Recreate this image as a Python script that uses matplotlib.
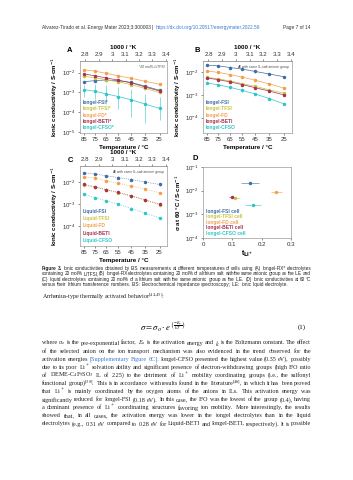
import numpy as np
import matplotlib.pyplot as plt

W, H = 353, 480
plt.rcParams['font.family'] = ['Liberation Sans', 'DejaVu Sans']
plt.rcParams['axes.linewidth'] = 0.5

# ---- data ----
temps = [85, 75, 65, 55, 45, 35, 25]
top_ticks = [2.8, 2.9, 3.0, 3.1, 3.2, 3.3, 3.4]
top_labels = ['2.8', '2.9', '3', '3.1', '3.2', '3.3', '3.4']
anions = ['FSI', 'TFSI', 'FD', 'BETI', 'CFSO']
colors = ['#3d6ea6', '#c9c33f', '#f2a04e', '#a9304f', '#2fc6c8']

# A: iongel-RX* with 20 mol% LiTFSI
a_fsi = [3.5e-3, 4.0e-3, 4.3e-3, 3.9e-3, 3.2e-3, 2.1e-3, 1.3e-3]
a_tfsi = [6.5e-3, 5.6e-3, 4.4e-3, 3.4e-3, 2.5e-3, 1.6e-3, 1.0e-3]
a_fd = [1.4e-2, 1.2e-2, 9.2e-3, 7.0e-3, 5.2e-3, 3.7e-3, 2.6e-3]
a_beti = [8.5e-3, 7.0e-3, 5.4e-3, 4.2e-3, 3.1e-3, 1.9e-3, 1.2e-3]
a_cfso = [1.4e-3, 1.15e-3, 8.5e-4, 6.2e-4, 4.3e-4, 2.6e-4, 1.6e-4]
a_cfso_lo = [6e-4, 4.5e-4, 2.5e-4, 1.5e-4, 6e-5, 3e-5, 4e-5]
a_cfso_hi = [2.4e-3, 2.6e-3, 2.5e-3, 2.0e-3, 1.5e-3, 8e-4, 6e-4]

# B: iongel-RX, same anion salt
b_fsi = [2.1e-2, 1.95e-2, 1.65e-2, 1.4e-2, 1.1e-2, 8.5e-3, 6.4e-3]
b_tfsi = [6.0e-3, 5.2e-3, 4.2e-3, 3.2e-3, 2.4e-3, 1.7e-3, 1.2e-3]
b_fd = [1.15e-2, 1.0e-2, 8.0e-3, 6.2e-3, 4.5e-3, 3.1e-3, 2.0e-3]
b_beti = [5.6e-3, 4.8e-3, 3.8e-3, 2.9e-3, 2.1e-3, 1.5e-3, 1.0e-3]
b_cfso = [3.4e-3, 2.8e-3, 2.2e-3, 1.6e-3, 1.1e-3, 7.0e-4, 4.0e-4]

# C: liquid electrolytes
c_fsi = [2.6e-2, 2.3e-2, 1.9e-2, 1.6e-2, 1.3e-2, 1.0e-2, 7.8e-3]
c_tfsi = [7.2e-3, 5.7e-3, 4.3e-3, 3.2e-3, 2.3e-3, 1.5e-3, 9.5e-4]
c_fd = [1.7e-2, 1.5e-2, 1.15e-2, 8.7e-3, 6.6e-3, 4.8e-3, 3.3e-3]
c_beti = [7.8e-3, 6.1e-3, 4.6e-3, 3.4e-3, 2.4e-3, 1.6e-3, 1.0e-3]
c_cfso = [2.8e-3, 2.0e-3, 1.4e-3, 1.0e-3, 6.4e-4, 4.0e-4, 2.4e-4]

# D: sigma at 60 C vs t_Li+
d_t = [0.16, 0.11, 0.25, 0.10, 0.17]
d_terr = [0.03, 0.015, 0.018, 0.012, 0.028]
d_sigma = [2.1e-2, 5.0e-3, 9.0e-3, 5.2e-3, 2.6e-3]

link_blue = '#3a7bd5'
inv_t = 1000 / (np.array(temps) + 273.15)

fig = plt.figure(figsize=(W / 100, H / 100), dpi=100)
rend = fig.canvas.get_renderer()


def box(l, t, r, b):
    return fig.add_axes([l / W, 1 - b / H, (r - l) / W, (b - t) / H])


def style(ax):
    for s in ax.spines.values():
        s.set_color('#9a9a9a')
    ax.tick_params(labelsize=4.4, length=1.5, width=0.4, pad=1.5,
                   colors='#333333')
    ax.minorticks_off()


def temp_panel(ax, series, ls, ylim, yticks, note, names):
    for vals, c in zip(series, colors):
        vals = np.array(vals)
        ax.errorbar(inv_t, vals, yerr=vals * 0.12, color=c, ls=ls, lw=0.5,
                    marker='o', ms=1.5, elinewidth=0.4, capsize=0)
    ax.set_yscale('log')
    ax.set_ylim(*ylim)
    ax.set_xlim(2.76, 3.41)
    ax.set_yticks(yticks)
    ax.set_xticks(inv_t, [str(t) for t in temps])
    top = ax.secondary_xaxis('top')
    top.set_xticks(top_ticks, top_labels)
    style(ax)
    style(top)
    ax.set_xlabel('Temperature / °C', fontsize=4.5, fontweight='bold',
                  labelpad=2)
    top.set_xlabel('1000 / °K', fontsize=4.5, fontweight='bold', labelpad=2)
    ax.set_ylabel('Ionic conductivity / S·cm$^{-1}$', fontsize=4.4,
                  fontweight='bold', labelpad=1.5)
    ax.text(0.97, 0.95, note, transform=ax.transAxes, ha='right', va='top',
            fontsize=2.4, style='italic', color='#444444')
    for i, (n, c) in enumerate(zip(names, colors)):
        ax.text(0.03, 0.43 - i * 0.09, n, transform=ax.transAxes, color=c,
                fontsize=3.5, fontweight='bold', va='center')


axA = box(80, 61, 167, 133)
axB = box(203, 61, 292, 133)
axC = box(80, 166, 167, 246)
axD = box(203, 167, 291, 238)

temp_panel(axA, [a_fsi, a_tfsi, a_fd, a_beti], '-', (9e-6, 3.9e-2),
           [1e-5, 1e-4, 1e-3, 1e-2], '*20 mol% LiTFSI',
           ['Iongel-' + a + '*' for a in anions])
cf = np.array(a_cfso)
axA.errorbar(inv_t, cf, yerr=[cf - np.array(a_cfso_lo), np.array(a_cfso_hi) - cf],
             color=colors[4], lw=0.5, marker='o', ms=1.5, elinewidth=0.4,
             capsize=0)

temp_panel(axB, [b_fsi, b_tfsi, b_fd, b_beti, b_cfso], '-', (2.1e-5, 3.2e-2),
           [1e-4, 1e-3, 1e-2], 'All with same IL-salt anionic group',
           ['Iongel-' + a for a in anions])
temp_panel(axC, [c_fsi, c_tfsi, c_fd, c_beti, c_cfso], ':', (1.3e-5, 5.3e-2),
           [1e-4, 1e-3, 1e-2], 'All with same IL-salt anionic group',
           ['Liquid-' + a for a in anions])

for t, te, s, c in zip(d_t, d_terr, d_sigma, colors):
    axD.errorbar([t], [s], xerr=[te], yerr=[s * 0.1], fmt='o', color=c,
                 ms=1.5, elinewidth=0.4, capsize=0)
axD.set_yscale('log')
axD.set_ylim(1e-4, 1e-1)
axD.set_xlim(0, 0.3)
axD.set_xticks([0, 0.1, 0.2, 0.3], ['0', '0.1', '0.2', '0.3'])
axD.set_yticks([1e-4, 1e-3, 1e-2, 1e-1])
style(axD)
axD.set_xlabel(r't$_{\mathbf{Li^+}}$', fontsize=5, fontweight='bold',
               labelpad=1.5)
axD.set_ylabel('σ at 60 °C / S·cm$^{-1}$', fontsize=4.4, fontweight='bold',
               labelpad=1.5)
for i, (a, c) in enumerate(zip(anions, colors)):
    axD.text(0.03, 0.38 - i * 0.078, 'Iongel-' + a + ' cell',
             transform=axD.transAxes, color=c, fontsize=3.5,
             fontweight='bold', va='center')

for letter, x, y in [('A', 70, 51), ('B', 197, 51), ('C', 70, 161), ('D', 195, 158)]:
    fig.text(x / W, 1 - y / H, letter, fontsize=5.5, fontweight='bold',
             ha='center', va='center')


# ---- page text ----
def fit(s, x0, x1, y, color='#333333', family='Liberation Sans'):
    t = fig.text(x0 / W, 1 - y / H, s, fontsize=4, family=family,
                 color=color, va='center', math_fontfamily='stix')
    w = t.get_window_extent(rend).width
    t.set_fontsize(4 * (x1 - x0) / w)
    return t


fit('Alvarez-Tirado et al. Energy Mater 2023;3:300003', 42, 148, 27)
fig.text(152 / W, 1 - 27 / H, '|', fontsize=3.5, color='#333333', va='center')
fit('https://dx.doi.org/10.20517/energymater.2022.59', 156, 257, 27,
    color=link_blue)
fit('Page 7 of 14', 283, 310, 27)


def block(lines, y0, dy, family, x0=42, x1=311, last_ragged=False):
    base = 4.0
    rows, ratios = [], []
    for j, line in enumerate(lines):
        arts = []
        for w in line.split(' '):
            color, weight = '#222222', 'normal'
            if w.startswith('~'):
                w, color = w[1:], link_blue
            if w.startswith('#'):
                w, weight = w[1:], 'bold'
            arts.append(fig.text(0, 1 - (y0 + j * dy) / H, w, fontsize=base,
                                 family=family, color=color, weight=weight,
                                 va='center', math_fontfamily='stix'))
        widths = [a.get_window_extent(rend).width for a in arts]
        space = base * 100 / 72 * 0.25
        natural = sum(widths) + space * (len(arts) - 1)
        rows.append((arts, widths))
        ratios.append((x1 - x0) / natural)
    k = float(np.median(ratios))
    for j, (arts, widths) in enumerate(rows):
        widths = [w * k for w in widths]
        gap = (x1 - x0 - sum(widths)) / (len(arts) - 1)
        if last_ragged and j == len(rows) - 1:
            gap = base * k * 100 / 72 * 0.25
        x = x0
        for a, wd in zip(arts, widths):
            a.set_fontsize(base * k)
            a.set_x(x / W)
            x += wd + gap


caption = [
    '#Figure #3. Ionic conductivities obtained by EIS measurements at different temperatures of cells using (A) Iongel-RX* electrolytes',
    'containing 20 mol% LiTFSI, (B) Iongel-RX electrolytes containing 20 mol% of a lithium salt with the same anionic group as the ILE and',
    '(C) liquid electrolytes containing 20 mol% of a lithium salt with the same anionic group as the ILE. (D) Ionic conductivities at 60 °C',
    'versus their lithium transference numbers. EIS: Electrochemical impedance spectroscopy; ILE: ionic liquid electrolyte.',
]
block(caption, 268.5, 5.3, 'Liberation Sans', last_ragged=True)

fit(r'Arrhenius-type thermally activated behavior$^{[44,45]}$:', 42, 164, 297,
    color='#222222', family='Liberation Serif')
fig.text(163 / W, 1 - 327 / H,
         r'$\sigma = \sigma_o \cdot e^{\left(\frac{-E_a}{kT}\right)}$',
         fontsize=6.3, ha='center', va='center', math_fontfamily='stix')
fig.text(298 / W, 1 - 327 / H, '(1)', fontsize=5, family='Liberation Serif',
         va='center')

body = [
    r'where σ$_o$ is the pre-exponential factor, $E_a$ is the activation energy and $k$ is the Boltzmann constant. The effect',
    'of the selected anion on the ion transport mechanism was also evidenced in the trend observed for the',
    'activation energies ~[Supplementary ~Figure ~6C]. Iongel-CFSO presented the highest value (0.35 eV), possibly',
    r'due to its poor Li$^+$ solvation ability and significant presence of electron-withdrawing groups (high F/O ratio',
    r'of DEME-C$_4$F$_9$SO$_3$ IL of 2.25) to the detriment of Li$^+$ mobility coordinating groups (i.e., the sulfonyl',
    r'functional group)$^{[38]}$. This is in accordance with results found in the literature$^{[46]}$, in which it has been proved',
    r'that Li$^+$ is mainly coordinated by the oxygen atoms of the anions in ILs. This activation energy was',
    'significantly reduced for Iongel-FSI (0.18 eV). In this case, the F/O was the lowest of the group (0.4), having',
    r'a dominant presence of Li$^+$ coordinating structures favoring ion mobility. More interestingly, the results',
    'showed that, in all cases, the activation energy was lower in the iongel electrolytes than in the liquid',
    'electrolytes (e.g., 0.31 eV compared to 0.28 eV for Liquid-BETI and Iongel-BETI, respectively). It is possible',
]
block(body, 343, 8.1, 'Liberation Serif')

fig.savefig('out.png', dpi=100)
